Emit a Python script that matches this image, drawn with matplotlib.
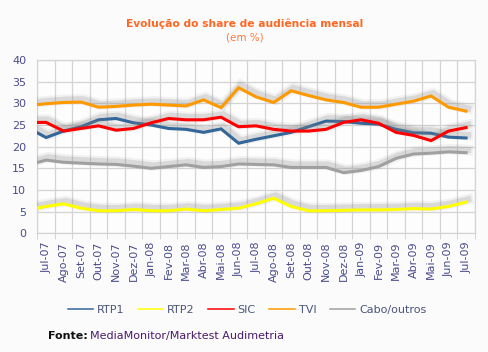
import numpy as np
import matplotlib.pyplot as plt
import matplotlib.patheffects as pe
from matplotlib.lines import Line2D

# months; 'Jun-07' sits just left of the axis and is only visible as the clipped start of the lines
months = ['Jun-07', 'Jul-07', 'Ago-07', 'Set-07', 'Out-07', 'Nov-07', 'Dez-07', 'Jan-08', 'Fev-08',
          'Mar-08', 'Abr-08', 'Mai-08', 'Jun-08', 'Jul-08', 'Ago-08', 'Set-08', 'Out-08',
          'Nov-08', 'Dez-08', 'Jan-09', 'Fev-09', 'Mar-09', 'Abr-09', 'Mai-09', 'Jun-09', 'Jul-09']

rtp1 = [24.3, 22.1, 23.6, 24.6, 26.2, 26.5, 25.5, 25.0, 24.2, 24.0, 23.3, 24.1, 20.8, 21.7,
        22.5, 23.3, 24.6, 25.9, 25.8, 25.4, 25.2, 24.0, 23.2, 23.1, 22.2, 22.0]
rtp2 = [5.4, 6.2, 6.8, 5.8, 5.2, 5.2, 5.5, 5.2, 5.2, 5.6, 5.2, 5.5, 5.8, 6.8,
        8.1, 6.2, 5.2, 5.2, 5.3, 5.4, 5.4, 5.5, 5.7, 5.6, 6.2, 7.2]
sic = [25.6, 25.6, 23.6, 24.2, 24.8, 23.8, 24.2, 25.5, 26.5, 26.2, 26.2, 26.8, 24.6, 24.8,
       24.0, 23.6, 23.6, 24.0, 25.6, 26.2, 25.4, 23.3, 22.6, 21.4, 23.6, 24.4]
tvi = [29.5, 29.9, 30.2, 30.3, 29.1, 29.3, 29.6, 29.8, 29.6, 29.4, 30.8, 29.0, 33.6, 31.5,
       30.2, 32.9, 31.8, 30.8, 30.2, 29.1, 29.1, 29.8, 30.5, 31.7, 29.1, 28.2]
cabo = [15.8, 16.9, 16.4, 16.2, 16.0, 15.9, 15.5, 15.0, 15.4, 15.8, 15.2, 15.4, 16.0, 15.9,
        15.8, 15.2, 15.2, 15.2, 14.0, 14.5, 15.4, 17.3, 18.3, 18.5, 18.8, 18.6]

names = ['RTP1', 'RTP2', 'SIC', 'TVI', 'Cabo/outros']
colors = ['#336699', '#ffff00', '#ff0000', '#ff9900', '#a0a0a0']
series = [rtp1, rtp2, sic, tvi, cabo]

label_color = '#4b4b8c'

fig = plt.figure(figsize=(4.89, 3.52), dpi=100, facecolor='#fbfbfb')
ax = fig.add_axes([0.0763, 0.3372, 0.8947, 0.4923])
ax.set_facecolor('#fdfdfd')

x = np.arange(len(months)) - 1

shadow = [pe.SimpleLineShadow(offset=(1.5, 2), shadow_color='#888888', alpha=0.10, linewidth=7.5),
          pe.SimpleLineShadow(offset=(1.5, 2), shadow_color='#888888', alpha=0.22, linewidth=4.5),
          pe.Normal()]

# draw gray, yellow first so the coloured lines sit on top
order = [4, 1, 0, 2, 3]
for k in order:
    ax.plot(x, series[k], color=colors[k], linewidth=2.2, solid_joinstyle='miter',
            path_effects=shadow, zorder=3 + k, clip_on=True)

ax.set_xlim(-0.5, 24.5)
ax.set_ylim(0, 40)
ax.set_yticks(range(0, 41, 5))
ax.set_xticks(range(25))
ax.set_xticklabels(months[1:], rotation=90)
ax.set_xticks(np.arange(-0.5, 25, 1), minor=True)
ax.tick_params(axis='x', which='major', length=0, pad=6, labelsize=8, labelcolor=label_color)
ax.tick_params(axis='x', which='minor', length=4, color='#cccccc')
ax.tick_params(axis='y', length=0, pad=8, labelsize=8, labelcolor=label_color)
ax.grid(True, which='minor', axis='x', color='#d4d4d4', linewidth=0.9)
ax.grid(True, which='major', axis='y', color='#d4d4d4', linewidth=0.9)
ax.set_axisbelow(True)
for s in ax.spines.values():
    s.set_color('#d4d4d4')
    s.set_linewidth(0.9)

fig.text(0.5, 1 - 24 / 352, 'Evolução do share de audiência mensal', ha='center', va='center',
         fontsize=7.7, fontweight='bold', color='#ff6622')
fig.text(0.5, 1 - 37 / 352, '(em %)', ha='center', va='center', fontsize=7.5, color='#ff7a3a')

handles = [Line2D([], [], color=c, linewidth=1.1) for c in colors]
leg = fig.legend(handles, names, loc='center', bbox_to_anchor=(0.505, 1 - 310 / 352), ncol=5,
                 frameon=False, fontsize=8, handlelength=2.3, handletextpad=0.35,
                 columnspacing=1.2)
for t in leg.get_texts():
    t.set_color('#4a5578')

fig.text(48 / 489, 1 - 336 / 352, 'Fonte:', ha='left', va='center', fontsize=8,
         fontweight='bold', color='#111111')
fig.text(90 / 489, 1 - 336 / 352, 'MediaMonitor/Marktest Audimetria', ha='left', va='center',
         fontsize=8, color='#4b1a6a')

fig.savefig('out.png', dpi=100, facecolor=fig.get_facecolor())
